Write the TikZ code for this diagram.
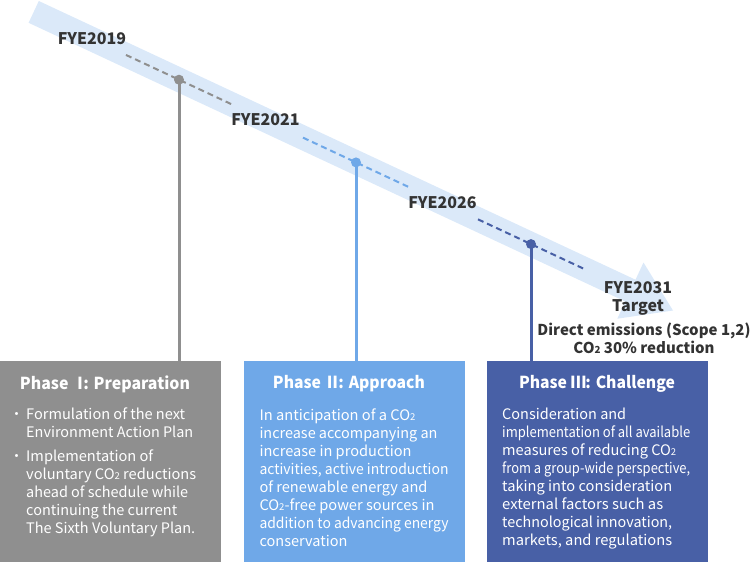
\documentclass[tikz,border=0pt]{standalone}
\usepackage{fontspec}
\usepackage{graphicx}
\setmainfont{Noto Sans CJK JP}
\newfontfamily\headfont[RawFeature=+palt]{Noto Sans CJK JP}
\usetikzlibrary{positioning,calc}

\definecolor{bandblue}{RGB}{219,233,249}
\definecolor{phgray}{RGB}{143,143,143}
\definecolor{phblue}{RGB}{111,168,232}
\definecolor{phnavy}{RGB}{72,96,166}
\definecolor{labelgray}{RGB}{51,51,51}

\tikzset{
  year/.style={font=\fontsize{16}{18}\selectfont\bfseries, text=labelgray, inner sep=0pt},
  goaltext/.style={font=\fontsize{15}{18}\selectfont\bfseries, text=labelgray, inner sep=0pt, align=center},
  phasebox/.style={minimum width=221pt, minimum height=201pt, anchor=north west, inner sep=0pt},
  phasehead/.style={font=\headfont\fontsize{16.5}{18}\selectfont\bfseries, text=white, inner sep=0pt},
  phasetext/.style={font=\fontsize{14.5}{18}\selectfont, text=white, align=left, anchor=north west, inner sep=0pt},
  stem/.style={line width=3pt},
  milestone/.style={line width=2pt, dash pattern=on 6pt off 4pt},
}
\newcommand{\cotwo}{CO\scalebox{0.65}{2}}
\newcommand{\bul}{\llap{・\hspace{2.3pt}}}
% squeeze one line to the width it has in the layout
\newcommand{\fit}[2]{\resizebox{#1pt}{\height}{#2}}

\begin{document}
\begin{tikzpicture}[x=1pt,y=-1pt]
    \useasboundingbox (0,0) rectangle (752,562);

    % Arrow band
    \fill[bandblue] (28.6,22.8) -- (38.8,1.0) -- (635.5,279.7) -- (643.5,262.5)
        -- (673,310.5) -- (617.3,318.7) -- (625.3,301.5) -- cycle;

    % Milestones on the band
    \foreach \n/\x/\y/\c in {1/179/79.7/phgray, 2/356/162.4/phblue, 3/531/244.1/phnavy} {
        \draw[milestone, \c] (\x-53,\y-24.75) -- (\x+53,\y+24.75);
        \coordinate (d\n) at (\x,\y);
    }

    % Phase boxes
    \node[phasebox, fill=phgray] (p1) at (0,361) {};
    \node[phasebox, fill=phblue] (p2) at (244,361) {};
    \node[phasebox, fill=phnavy] (p3) at (487,361) {};

    % Stems from milestones to boxes
    \draw[stem, phgray] (d1) -- (d1 |- p1.north);
    \draw[stem, phblue] (d2) -- (d2 |- p2.north);
    \draw[stem, phnavy] (d3) -- (d3 |- p3.north);
    \fill[phgray] (d1) circle (5pt);
    \fill[phblue] (d2) circle (5pt);
    \fill[phnavy] (d3) circle (5pt);

    % Year labels
    \node[year] (y19) at (92,39) {FYE2019};
    \node[year] (y21) at (265.5,120) {FYE2021};
    \node[year] (y26) at (442.5,203) {FYE2026};
    \node[year, align=center] (y31) at (638,298) {FYE2031\\Target};
    \node[goaltext] (goal) at (644,338) {Direct emissions (Scope 1,2)\\\cotwo{} 30\% reduction};

    % Box headings
    \node[phasehead] (h1) at (105,384) {\fit{170}{Phase Ⅰ\kern-5pt: Preparation}};
    \node[phasehead] (h2) at (349,384) {\fit{152}{Phase Ⅱ\kern-2pt: Approach}};
    \node[phasehead] (h3) at (597,384) {\fit{156}{Phase Ⅲ\kern-1pt: Challenge}};

    % Box texts
    \node[phasetext] (t1) at (26,407.5) {\bul\fit{159}{Formulation of the next}\\\fit{167}{Environment Action Plan}\\[6pt]
        \bul\fit{127}{Implementation of}\\\fit{170}{voluntary \cotwo{} reductions}\\\fit{162}{ahead of schedule while}\\
        \fit{151}{continuing the current}\\\fit{169}{The Sixth Voluntary Plan.}};
    \node[phasetext] (t2) at (259.3,409) {\fit{156}{In anticipation of a \cotwo}\\\fit{178}{increase accompanying an}\\
        \fit{152}{increase in production}\\\fit{189}{activities, active introduction}\\\fit{168}{of renewable energy and}\\
        \fit{175}{\cotwo-free power sources in}\\\fit{189}{addition to advancing energy}\\\fit{88}{conservation}};
    \node[phasetext] (t3) at (502,407.5) {\fit{124}{Consideration and}\\\fit{188}{implementation of all available}\\
        \fit{174}{measures of reducing \cotwo}\\\fit{188}{from a group-wide perspective,}\\\fit{170}{taking into consideration}\\
        \fit{161}{external factors such as}\\\fit{170}{technological innovation,}\\\fit{170}{markets, and regulations}};
\end{tikzpicture}
\end{document}
